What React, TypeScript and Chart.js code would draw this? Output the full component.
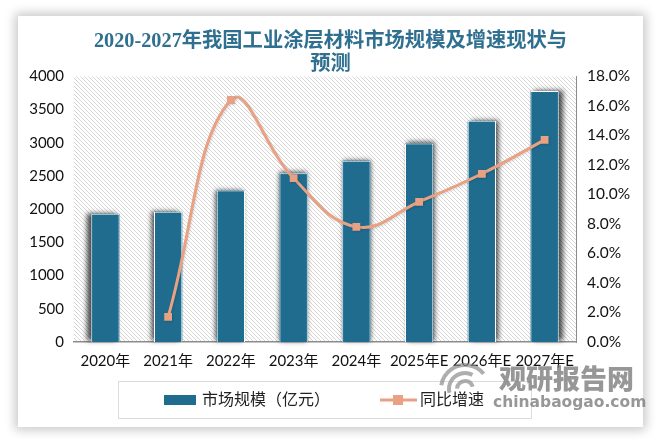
import React, { useEffect, useRef } from "react";
import { Chart, registerables } from "chart.js";

Chart.register(...registerables);

const categories = ["2020年", "2021年", "2022年", "2023年", "2024年", "2025年E", "2026年E", "2027年E"];
const marketSize = [1930, 1960, 2280, 2540, 2730, 2990, 3330, 3780];
const growthRate = [null, 1.7, 16.4, 11.1, 7.8, 9.5, 11.4, 13.7];
const titleLines = ["2020-2027年我国工业涂层材料市场规模及增速现状与", "预测"];
const barLabel = "市场规模（亿元）";
const lineLabel = "同比增速";
const BAR = "#1f6c8f";
const LINE = "#e8a183";
const FONT = "Lato, 'Noto Sans CJK SC', sans-serif";

const shadowPlugin = {
  id: "shadows",
  beforeDatasetDraw(chart: any, args: any) {
    const c = chart.ctx;
    c.save();
    if (args.meta.type === "bar") {
      const mid = (chart.chartArea.left + chart.chartArea.right) / 2;
      const half = (chart.chartArea.right - chart.chartArea.left) / 2;
      for (const el of args.meta.data) {
        c.save();
        c.shadowColor = "rgba(0,0,0,0.7)";
        c.shadowBlur = 5;
        c.shadowOffsetX = ((el.x - mid) / half) * 4.5;
        c.shadowOffsetY = -1;
        c.fillStyle = BAR;
        c.fillRect(el.x - el.width / 2, el.y, el.width, el.base - el.y);
        c.restore();
      }
    } else {
      c.shadowColor = "rgba(0,0,0,0.12)";
      c.shadowBlur = 2;
      c.shadowOffsetX = 1;
      c.shadowOffsetY = 1;
    }
  },
  afterDatasetDraw(chart: any) {
    chart.ctx.restore();
  },
};

const hatchPlugin = {
  id: "hatch",
  beforeDraw(chart: any) {
    const { ctx, chartArea: a } = chart;
    const p = document.createElement("canvas");
    p.width = 4;
    p.height = 4;
    const g = p.getContext("2d")!;
    g.fillStyle = "#fff";
    g.fillRect(0, 0, 4, 4);
    g.strokeStyle = "#d6d6d6";
    g.lineWidth = 1;
    for (const o of [-4, 0, 4]) {
      g.beginPath();
      g.moveTo(o, 0);
      g.lineTo(o + 4, 4);
      g.stroke();
    }
    ctx.save();
    ctx.fillStyle = ctx.createPattern(p, "repeat");
    ctx.fillRect(a.left, a.top, a.right - a.left, a.bottom - a.top);
    ctx.restore();
  },
};

const legendPlugin = {
  id: "boxedLegend",
  afterDraw(chart: any) {
    const c = chart.ctx;
    c.save();
    c.strokeStyle = "#dcdcdc";
    c.lineWidth = 1;
    c.strokeRect(118.5, 381.5, 413, 37);
    c.fillStyle = BAR;
    c.fillRect(164, 395, 32, 10);
    c.strokeStyle = LINE;
    c.lineWidth = 3;
    c.beginPath();
    c.moveTo(380, 400);
    c.lineTo(417, 400);
    c.stroke();
    c.fillStyle = LINE;
    c.fillRect(393, 395, 10, 10);
    c.fillStyle = "#222";
    c.font = "16px 'Noto Sans CJK SC', sans-serif";
    c.textBaseline = "middle";
    c.fillText(barLabel, 202, 399);
    c.fillText(lineLabel, 420, 399);
    c.restore();
  },
};

const watermarkPlugin = {
  id: "watermark",
  afterDraw(chart: any) {
    const c = chart.ctx;
    c.save();
    c.fillStyle = "rgba(125,125,125,0.8)";
    c.font = "900 27px 'Noto Sans CJK SC', sans-serif";
    c.textBaseline = "middle";
    c.fillText("观研报告网", 499, 379);
    c.font = "bold 15.5px 'DejaVu Sans', sans-serif";
    c.fillText("chinabaogao.com", 493, 403);
    c.strokeStyle = "rgba(140,140,140,0.7)";
    c.lineWidth = 4;
    for (const [r, s, e] of [[24, 3.3, 5.6], [16, 2.9, 5.2], [8, 3.2, 6.0]]) {
      c.beginPath();
      c.arc(465, 389, r, s, e);
      c.stroke();
    }
    c.restore();
  },
};

export default function App() {
  const ref = useRef<HTMLCanvasElement>(null);
  useEffect(() => {
    const chart = new Chart(ref.current!, {
      type: "bar",
      data: {
        labels: categories,
        datasets: [
          {
            type: "line",
            label: lineLabel,
            data: growthRate,
            yAxisID: "y1",
            borderColor: LINE,
            backgroundColor: LINE,
            borderWidth: 3,
            tension: 0.42,
            pointStyle: "rect",
            pointRadius: 5.5,
            pointBorderWidth: 0,
            pointHoverRadius: 5.5,
            order: 1,
          },
          {
            type: "bar",
            label: barLabel,
            data: marketSize,
            yAxisID: "y",
            backgroundColor: BAR,
            borderColor: "#ffffff",
            borderWidth: 1,
            categoryPercentage: 1,
            barPercentage: 0.45,
            order: 2,
          },
        ] as any,
      },
      options: {
        responsive: false,
        animation: false,
        plugins: {
          legend: { display: false },
          tooltip: { enabled: false },
          title: {
            display: true,
            text: titleLines,
            color: "#2f6f90",
            font: { family: "'Liberation Serif', 'Noto Sans CJK SC', serif", size: 20.3, weight: "bold", lineHeight: 1.13 },
            padding: { top: 30.5, bottom: 0 },
          },
        },
        scales: {
          x: {
            grid: { display: false, drawTicks: false },
            border: { color: "#8c8c8c", width: 1.5 },
            ticks: { color: "#111", font: { family: FONT, size: 15 }, autoSkip: false, maxRotation: 0, padding: 10 },
            afterFit(s: any) { s.height = 101; },
          },
          y: {
            min: 0,
            max: 4000,
            grid: { display: false, drawTicks: false },
            border: { display: false },
            ticks: { stepSize: 500, color: "#111", font: { family: FONT, size: 15 }, padding: 10, callback: (v: any) => String(v) },
            afterFit(s: any) { s.width = 74; },
          },
          y1: {
            position: "right",
            min: 0,
            max: 18,
            grid: { display: false, drawOnChartArea: false, drawTicks: true, tickLength: 7, tickColor: "#8c8c8c" },
            border: { color: "#8c8c8c" },
            ticks: { stepSize: 2, color: "#111", font: { family: FONT, size: 15.5 }, padding: 4, callback: (v: any) => Number(v).toFixed(1) + "%" },
            afterFit(s: any) { s.width = 85; },
          },
        },
      } as any,
      plugins: [hatchPlugin, shadowPlugin, legendPlugin, watermarkPlugin],
    } as any);
    return () => chart.destroy();
  }, []);
  return (
    <div style={{ position: "fixed", left: 0, top: 0, width: 661, height: 443, background: "#fff" }}>
      <div style={{ position: "absolute", left: 18, top: 16, width: 625, height: 411, background: "#fff", boxShadow: "0 0 10px 3px rgba(0,0,0,0.22)" }} />
      <canvas ref={ref} width={661} height={443} style={{ position: "absolute", left: 0, top: 0, width: 661, height: 443 }} />
    </div>
  );
}
